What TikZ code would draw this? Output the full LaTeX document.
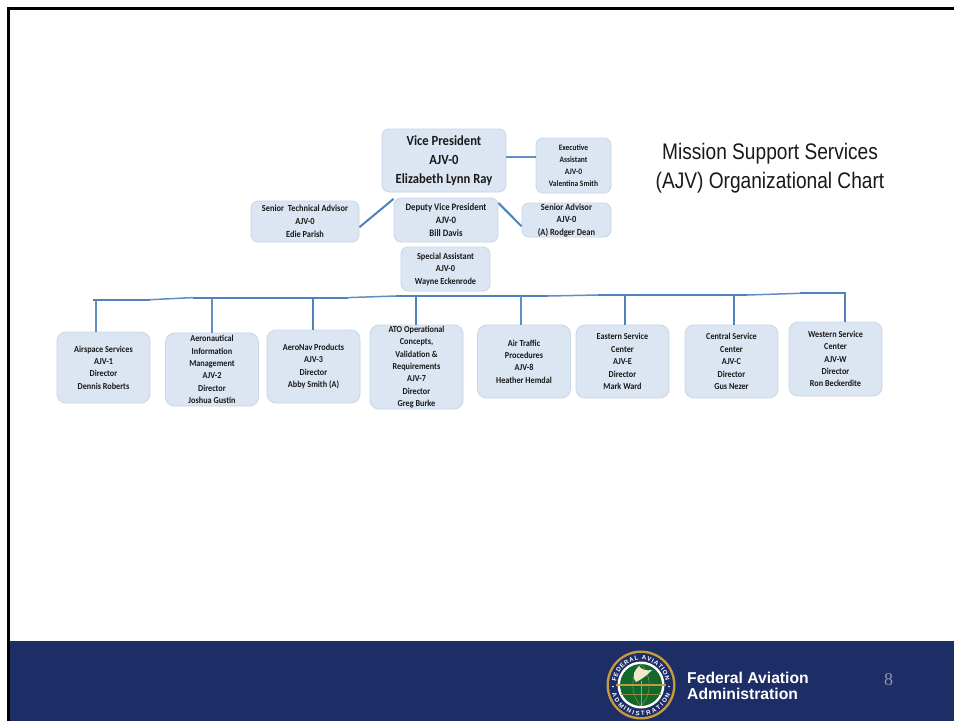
\documentclass[tikz,border=0pt]{standalone}
\usepackage{fontspec}
\setmainfont[FakeStretch=0.9]{Carlito}
\newfontfamily\titlefont[FakeStretch=0.85]{Liberation Sans}
\newfontfamily\footfont{Liberation Sans}
\newfontfamily\pagefont{Liberation Serif}
\usepackage{xcolor}
\definecolor{myband}{RGB}{29,45,102}
\definecolor{myblue}{RGB}{79,129,189}
\definecolor{myfill}{RGB}{220,230,242}
\definecolor{myedge}{RGB}{200,214,232}
\definecolor{mygold}{RGB}{196,154,60}
\definecolor{mygreen}{RGB}{18,105,45}
\usetikzlibrary{positioning}
\usetikzlibrary{decorations.text}
\newcommand{\boxfont}[2]{\fontsize{#1}{#2}\selectfont\bfseries}
\newcommand{\sealfont}{\footfont\fontsize{6.2}{6.2}\selectfont\bfseries\color{white}}

\begin{document}
\begin{tikzpicture}[x=1pt,y=-1pt]
	\useasboundingbox (0,0) rectangle (954,721);
	\fill[white] (0,0) rectangle (954,721);
	\fill[myband] (9,640.5) rectangle (954,721);
	\draw[line width=3pt] (8.5,721) -- (8.5,8.5) -- (954,8.5);

	\begin{scope}[every node/.style={fill=myfill,draw=myedge,rounded corners=7pt,thick,align=center,inner sep=0pt,text=black!90}]
	    \node (VP) [minimum width=124,minimum height=63,font=\boxfont{14}{19}] at (444,160.5) {Vice President\\AJV-0\\Elizabeth Lynn Ray};
	    \node (EA) [minimum width=75,minimum height=55,font=\boxfont{8.3}{11.8}] at (573.5,165.5) {Executive\\Assistant\\AJV-0\\Valentina Smith};
	    \node (STA) [minimum width=108,minimum height=41,font=\boxfont{9.3}{13}] at (305,221.5) {Senior\ \ Technical Advisor\\AJV-0\\Edie Parish};
	    \node (DVP) [minimum width=104,minimum height=44,font=\boxfont{9.8}{13}] at (446,220) {Deputy Vice President\\AJV-0\\Bill Davis};
	    \node (SA) [minimum width=89,minimum height=34,font=\boxfont{9.4}{12.5}] at (566.5,220) {Senior Advisor\\AJV-0\\(A) Rodger Dean};
	    \node (SpA) [minimum width=89,minimum height=44,font=\boxfont{9.2}{12.5}] at (445.5,269) {Special Assistant\\AJV-0\\Wayne Eckenrode};
	\end{scope}

	\begin{scope}[every node/.style={fill=myfill,draw=myedge,rounded corners=9pt,thick,align=center,inner sep=0pt,minimum width=93,text=black!90,font=\boxfont{9.1}{12.4}}]
	    \node (AJV1) [minimum height=71] at (103.5,367.5) {Airspace Services\\AJV-1\\Director\\Dennis Roberts};
	    \node (AJV2) [minimum height=73] at (212,369.5) {Aeronautical\\Information\\Management\\AJV-2\\Director\\Joshua Gustin};
	    \node (AJV3) [minimum height=73] at (313.5,366.5) {AeroNav Products\\AJV-3\\Director\\Abby Smith (A)};
	    \node (AJV7) [minimum height=84] at (416.5,367) {ATO Operational\\Concepts,\\Validation \&\\Requirements\\AJV-7\\Director\\Greg Burke};
	    \node (AJV8) [minimum height=73] at (524,361.5) {Air Traffic\\Procedures\\AJV-8\\Heather Hemdal};
	    \node (AJVE) [minimum height=73] at (622.5,361.5) {Eastern Service\\Center\\AJV-E\\Director\\Mark Ward};
	    \node (AJVC) [minimum height=73] at (731.5,361.5) {Central Service\\Center\\AJV-C\\Director\\Gus Nezer};
	    \node (AJVW) [minimum height=74] at (835.5,359) {Western Service\\Center\\AJV-W\\Director\\Ron Beckerdite};
	\end{scope}

	% stepped bus
	\coordinate (B0) at (93,299.7);
	\coordinate (B1) at (150,299.7);
	\coordinate (B2) at (193,297.6);
	\coordinate (B3) at (348,297.6);
	\coordinate (B4) at (396,296);
	\coordinate (B5) at (548,296);
	\coordinate (B6) at (598,295);
	\coordinate (B7) at (747,295);
	\coordinate (B8) at (800,293.3);
	\coordinate (B9) at (846,293.3);
	% drop points
	\coordinate (D1) at (96,299.7);
	\coordinate (D2) at (212,297.6);
	\coordinate (D3) at (313,297.6);
	\coordinate (D7) at (416,296);
	\coordinate (D8) at (521,296);
	\coordinate (DE) at (625,295);
	\coordinate (DC) at (734,295);
	\coordinate (DW) at (845,293.3);

	\begin{scope}[every edge/.style={draw=myblue,line width=2pt}]
	    \path (B0) edge (B1);
	    \path (B2) edge (B3);
	    \path (B4) edge (B5);
	    \path (B6) edge (B7);
	    \path (B8) edge (B9);
	    \path (D3) edge (D3 |- AJV3.north);
	    \path (D7) edge (D7 |- AJV7.north);
	    \path (DE) edge (DE |- AJVE.north);
	    \path (DC) edge (DC |- AJVC.north);
	    \path (DW) edge (DW |- AJVW.north);
	    \path (STA.-6) edge (DVP.158);
	    \path (DVP.18) edge (SA.188);
	\end{scope}

	\begin{scope}[every edge/.style={draw=myblue!90,line width=1.5pt}]
	    \path (B1) edge (B2);
	    \path (B3) edge (B4);
	    \path (B5) edge (B6);
	    \path (B7) edge (B8);
	    \path (D1) edge (D1 |- AJV1.north);
	    \path (D2) edge (D2 |- AJV2.north);
	    \path (D8) edge (D8 |- AJV8.north);
	    \path (VP.3) edge (VP.3 -| EA.west);
	\end{scope}

	\node (title) [align=center,font=\titlefont\fontsize{22.5}{29}\selectfont,text=black!90] at (770,168.5) {Mission Support Services\\(AJV) Organizational Chart};
	\node (faa) [align=left,text=white,font=\footfont\fontsize{15.7}{16}\selectfont\bfseries,anchor=west,inner sep=0pt] at (687,686) {Federal Aviation\\Administration};
	\node (page) [text=white!50!myband,font=\pagefont\fontsize{18}{18}\selectfont] at (888.5,680) {8};

	% seal
	\begin{scope}[shift={(641,685)},x=1pt,y=1pt]
	    \fill[mygold] (0,0) circle (34.5);
	    \fill[myband] (0,0) circle (32);
	    \fill[white] (0,0) circle (23.5);
	    \fill[mygreen] (0,0) circle (21);
	    \draw[mygold!70!mygreen,semithick] (0,21) .. controls (-11,10) and (-11,-10) .. (0,-21);
	    \draw[mygold!70!mygreen,semithick] (0,21) .. controls (11,10) and (11,-10) .. (0,-21);
	    \draw[mygold!70!mygreen,semithick] (-20,-9) -- (20,-9);
	    \draw[mygold,thick] (0,4) -- (0,-21);
	    \draw[mygold,line width=1.2pt] (-25,0) -- (25,0);
	    \fill[white!75!mygold] (-5,3) .. controls (-10,10) and (-6,15) .. (-2,19) .. controls (1,15) and (5,14) .. (11,15) .. controls (7,11) and (3,7) .. (-5,3);
	    \fill[white] (-28,-1.5) circle (0.9) (28,-1.5) circle (0.9);
	    \path[decorate,decoration={text along path,text align=fit to path,text={|\sealfont|FEDERAL AVIATION}}] (172:25) arc (172:10:25);
	    \path[decorate,decoration={text along path,text align=fit to path,text={|\sealfont|ADMINISTRATION}}] (197:30.5) arc (197:343:30.5);
	\end{scope}
\end{tikzpicture}
\end{document}
